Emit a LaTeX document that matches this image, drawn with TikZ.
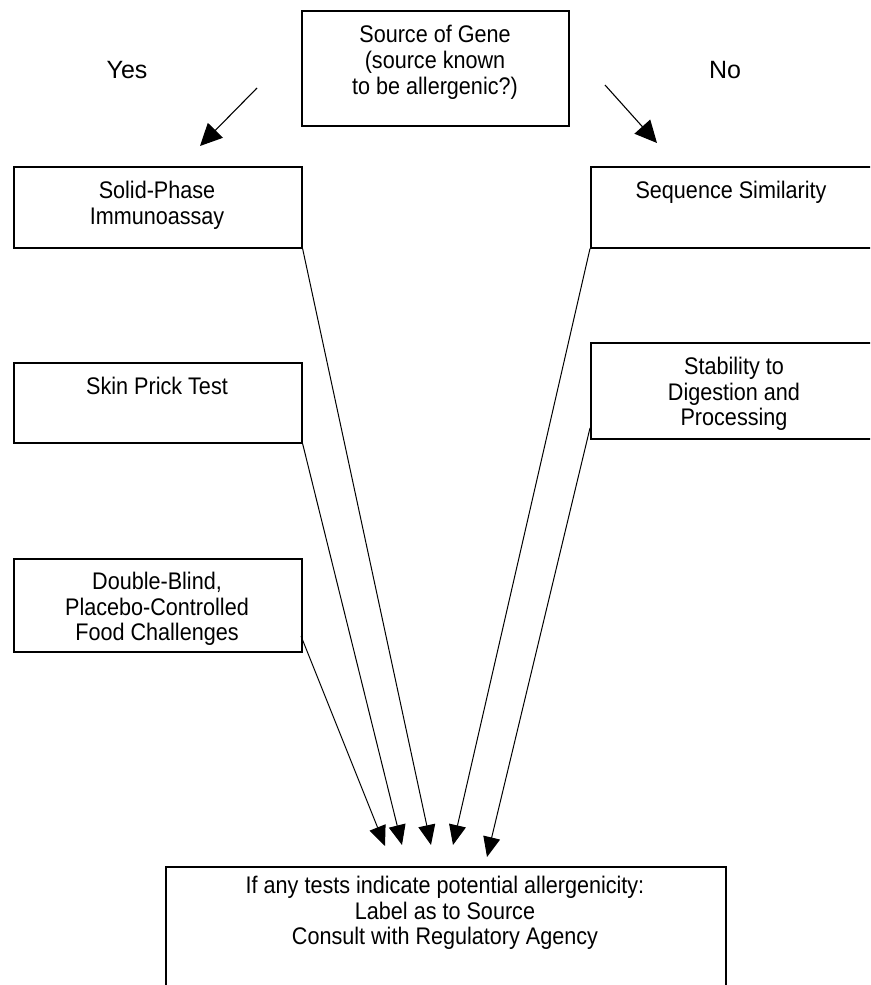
\documentclass[tikz,border=0pt]{standalone}
\usepackage{fontspec}
\setmainfont[FakeStretch=0.9]{Liberation Sans}
\newfontfamily\labelfont{Liberation Sans}
\usetikzlibrary{arrows.meta}
\begin{document}
\begin{tikzpicture}[x=1pt,y=-1pt,
  box/.style={draw=black,line width=1.6pt,rectangle,inner sep=0pt,anchor=north west},
  txt/.style={anchor=north,align=center,inner sep=0pt,font=\fontsize{24}{25.5}\selectfont},
  yn/.style={anchor=base,inner sep=0pt,font=\labelfont\fontsize{25}{28}\selectfont},
  conn/.style={draw=black,line width=1pt,-{Triangle[length=20pt,width=17pt]}},
  big/.style={draw=black,line width=1.1pt,-{Triangle[length=22pt,width=21pt]}}]
\useasboundingbox (0,0) rectangle (870,985);
\clip (0,0) rectangle (870,985);
\fill[white] (0,0) rectangle (870,985);
% boxes
\node[box,minimum width=267pt,minimum height=115pt] (src) at (301,10) {};
\node[txt,font=\fontsize{24}{26}\selectfont] (srct) at (435,25) {Source of Gene\\(source known\\to be allergenic?)};
\node[box,minimum width=288pt,minimum height=81pt] (sp) at (13,166) {};
\node[txt] (spt) at (157,181) {Solid-Phase\\Immunoassay};
\node[box,minimum width=300pt,minimum height=81pt] (seq) at (590,166) {};
\node[txt] (seqt) at (731,181) {Sequence Similarity};
\node[box,minimum width=288pt,minimum height=80pt] (skin) at (13,362) {};
\node[txt] (skint) at (157,377) {Skin Prick Test};
\node[box,minimum width=300pt,minimum height=96pt] (stab) at (590,342) {};
\node[txt] (stabt) at (734,357) {Stability to\\Digestion and\\Processing};
\node[box,minimum width=288pt,minimum height=93pt] (dbl) at (13,558) {};
\node[txt] (dblt) at (157,572) {Double-Blind,\\Placebo-Controlled\\Food Challenges};
\node[box,minimum width=560pt,minimum height=140pt] (res) at (165,866) {};
\node[txt] (rest) at (445,876) {If any tests indicate potential allergenicity:\\Label as to Source\\Consult with Regulatory Agency};
% labels
\node[yn] (yes) at (127,78) {Yes};
\node[yn] (no) at (725,78) {No};
% top arrows
\coordinate (ya) at (257,88);
\coordinate (yb) at (200,146);
\coordinate (na) at (605,85);
\coordinate (nb) at (657,143);
\draw[big] (ya) -- (yb);
\draw[big] (na) -- (nb);
% converging arrows
\coordinate (t1) at (385,846);
\coordinate (t2) at (402,845);
\coordinate (t3) at (431,845);
\coordinate (t4) at (453,845);
\coordinate (t5) at (487,857);
\coordinate (dblo) at (301,636);
\coordinate (stabo) at (590,428);
\draw[conn] (dblo) -- (t1);
\draw[conn] (skin.south east) -- (t2);
\draw[conn] (sp.south east) -- (t3);
\draw[conn] (seq.south west) -- (t4);
\draw[conn] (stabo) -- (t5);
\end{tikzpicture}
\end{document}
